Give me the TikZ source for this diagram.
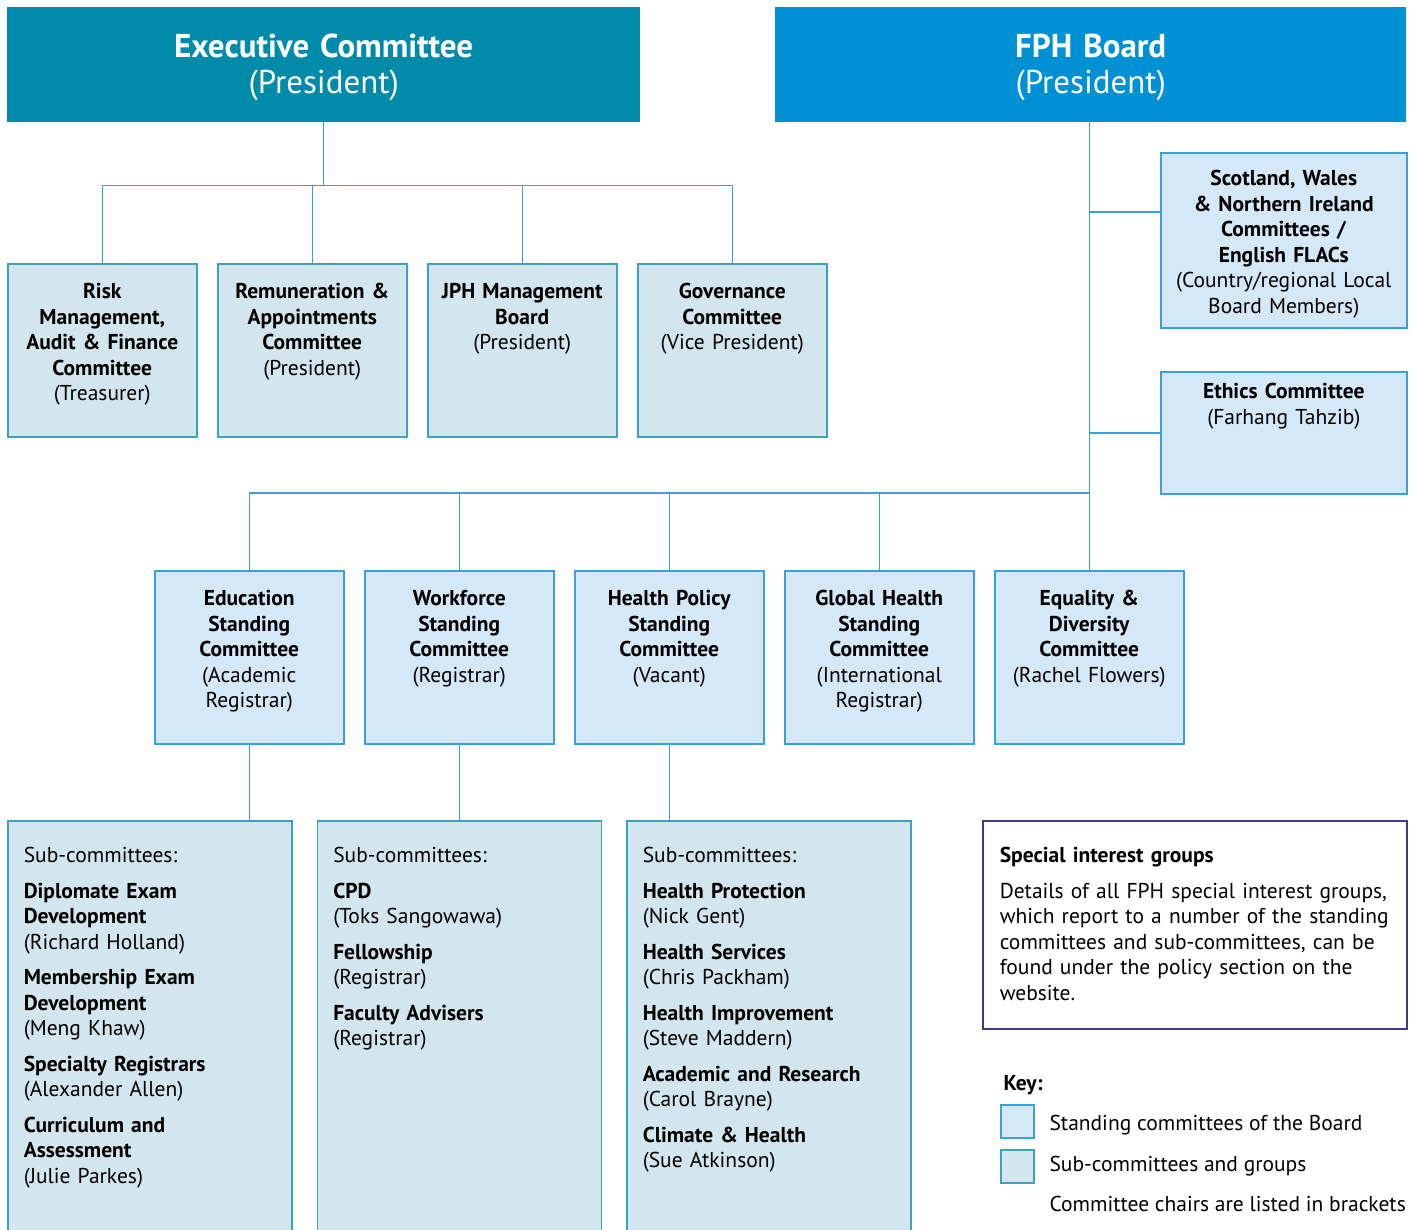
\documentclass[tikz,border=0pt]{standalone}
\usepackage{fontspec}
\setmainfont{PT Sans}
\usetikzlibrary{positioning,calc}

\definecolor{execteal}{HTML}{008BAA}
\definecolor{boardblue}{HTML}{0091D5}
\definecolor{execfill}{HTML}{D3E6EE}
\definecolor{execedge}{HTML}{3AA4C0}
\definecolor{boardfill}{HTML}{D5E8F8}
\definecolor{boardedge}{HTML}{3A9FDB}
\definecolor{sigedge}{HTML}{3C3C8C}

\begin{document}
\begin{tikzpicture}[x=1pt,y=-1pt]

  \tikzstyle{every node}=[font=\fontsize{21.5}{25.5}\selectfont]

  \tikzset{headbox/.style={anchor=north west, inner sep=0pt, text width=633pt,
      align=center, text height=50pt, text depth=65pt, text=white,
      font=\fontsize{33}{36}\selectfont},
    execbox/.style={anchor=north west, draw=execedge, line width=1.5pt,
      fill=execfill, inner sep=0pt, text width=189pt, align=center,
      text height=35pt, text depth=138pt},
    boardbox/.style={execbox, draw=boardedge, fill=boardfill},
    sidebox/.style={boardbox, text width=246pt},
    subbox/.style={anchor=north west, draw=execedge, line width=1.5pt,
      fill=execfill, inner xsep=16pt, inner ysep=0pt, text width=252pt,
      align=left, text height=42pt, text depth=372pt},
    execline/.style={draw=execedge, line width=1.5pt},
    boardline/.style={draw=boardedge, line width=1.5pt},
    swatch/.style={draw=#1edge, fill=#1fill, line width=1.5pt,
      minimum size=33pt, inner sep=0pt, anchor=north west}}

  \useasboundingbox (0,0) rectangle (1413,1229);

  % Top boxes
  \node[headbox, fill=execteal] (exec) at (7,7)
    {\textbf{Executive Committee}\\(President)};
  \node[headbox, fill=boardblue, text width=631pt] (board) at (775,7)
    {\textbf{FPH Board}\\(President)};

  % Executive committee row
  \node[execbox] (risk) at (7,263)
    {\textbf{Risk}\\\textbf{Management,}\\\textbf{Audit \& Finance}\\\textbf{Committee}\\(Treasurer)};
  \node[execbox, right=19.5pt of risk] (remun)
    {\textbf{Remuneration \&}\\\textbf{Appointments}\\\textbf{Committee}\\(President)};
  \node[execbox, right=19.5pt of remun] (jph)
    {\textbf{JPH Management}\\\textbf{Board}\\(President)};
  \node[execbox, right=19.5pt of jph] (gov)
    {\textbf{Governance}\\\textbf{Committee}\\(Vice President)};

  % Side boxes of the board
  \node[sidebox, text height=33pt, text depth=142pt] (nations) at (1160,152)
    {\textbf{Scotland, Wales}\\\textbf{\& Northern Ireland}\\\textbf{Committees /}\\\textbf{English FLACs}\\(Country/regional Local\\Board Members)};
  \node[sidebox, text height=27pt, text depth=95pt] (ethics) at (1160,371)
    {\textbf{Ethics Committee}\\(Farhang Tahzib)};

  % Standing committees
  \node[boardbox] (edu) at (154,570)
    {\textbf{Education}\\\textbf{Standing}\\\textbf{Committee}\\(Academic\\Registrar)};
  \node[boardbox, right=19.5pt of edu] (workforce)
    {\textbf{Workforce}\\\textbf{Standing}\\\textbf{Committee}\\(Registrar)};
  \node[boardbox, right=19.5pt of workforce] (policy)
    {\textbf{Health Policy}\\\textbf{Standing}\\\textbf{Committee}\\(Vacant)};
  \node[boardbox, right=19.5pt of policy] (global)
    {\textbf{Global Health}\\\textbf{Standing}\\\textbf{Committee}\\(International\\Registrar)};
  \node[boardbox, right=19.5pt of global] (equality)
    {\textbf{Equality \&}\\\textbf{Diversity}\\\textbf{Committee}\\(Rachel Flowers)};

  % Sub-committees
  \node[subbox] (edusub) at (7,820)
    {Sub-committees:\\[10pt]
     \textbf{Diplomate Exam}\\\textbf{Development}\\(Richard Holland)\\[10pt]
     \textbf{Membership Exam}\\\textbf{Development}\\(Meng Khaw)\\[10pt]
     \textbf{Specialty Registrars}\\(Alexander Allen)\\[10pt]
     \textbf{Curriculum and}\\\textbf{Assessment}\\(Julie Parkes)};
  \node[subbox, right=24pt of edusub] (worksub)
    {Sub-committees:\\[10pt]
     \textbf{CPD}\\(Toks Sangowawa)\\[10pt]
     \textbf{Fellowship}\\(Registrar)\\[10pt]
     \textbf{Faculty Advisers}\\(Registrar)};
  \node[subbox, right=24pt of worksub] (policysub)
    {Sub-committees:\\[10pt]
     \textbf{Health Protection}\\(Nick Gent)\\[10pt]
     \textbf{Health Services}\\(Chris Packham)\\[10pt]
     \textbf{Health Improvement}\\(Steve Maddern)\\[10pt]
     \textbf{Academic and Research}\\(Carol Brayne)\\[10pt]
     \textbf{Climate \& Health}\\(Sue Atkinson)};

  % Special interest groups
  \node[anchor=north west, draw=sigedge, line width=1.5pt, inner xsep=17pt,
    inner ysep=0pt, text width=390pt, align=left, text height=42pt,
    text depth=166pt] (sig) at (982,820)
    {\textbf{Special interest groups}\\[10pt]
     Details of all FPH special interest groups,\\which report to a number of the standing\\committees and sub-committees, can be\\found under the policy section on the\\website.};

  % Key
  \node[anchor=base west, font=\fontsize{21.5}{25.5}\bfseries] (key) at (1000,1090) {Key:};
  \node[swatch=board] (keyboard) at (1000,1104) {};
  \node[swatch=exec] (keyexec) at (1000,1149) {};
  \node[anchor=base west] (keyboardtext) at (1046,1130) {Standing committees of the Board};
  \node[anchor=base west] (keyexectext) at (1046,1171) {Sub-committees and groups};
  \node[anchor=base west] (keychairs) at (1046,1211) {Committee chairs are listed in brackets};

  % Executive committee lines
  \coordinate (execbus) at ($(exec.south)+(0,63)$);
  \draw[execline] (exec.south) -- (execbus);
  \draw[execline] (risk.north) |- (gov.north |- execbus) -- (gov.north);
  \foreach \n in {remun,jph}
    \draw[execline] (\n.north) -- (\n.north |- execbus);

  % Board lines
  \coordinate (spine) at (board.south -| equality.north);
  \coordinate (boardbus) at ($(equality.north)+(0,-77)$);
  \draw[boardline] (spine) -- (equality.north);
  \draw[boardline] (nations.west |- 0,212) -- (spine |- 0,212);
  \draw[boardline] (ethics.west) -- (ethics.west -| spine);
  \draw[boardline] (edu.north) |- (boardbus);
  \foreach \n in {workforce,policy,global}
    \draw[boardline] (\n.north) -- (\n.north |- boardbus);

  % Down to the sub-committees
  \draw[boardline] (edu.south) -- (edu.south |- edusub.north);
  \draw[boardline] (workforce.south) -- (workforce.south |- worksub.north);
  \draw[boardline] (policy.south) -- (policy.south |- policysub.north);

\end{tikzpicture}
\end{document}
